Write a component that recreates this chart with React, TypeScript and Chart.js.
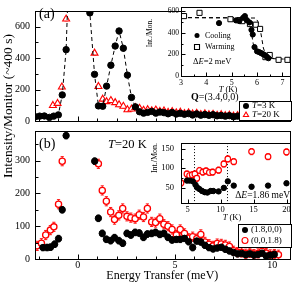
import React, { useEffect, useRef } from "react";
import { Chart, registerables } from "chart.js";

Chart.register(...registerables);

const SERIF = "'Liberation Serif', 'Times New Roman', Times, serif";
const RED = "#ff0000";
const BLACK = "#000000";

// ---------- shared energy axis (meV)
const energyRange = [-2.2, 10.9];
const energyTicks = [0, 5, 10];
const energyMinor = [-2, -1, 1, 2, 3, 4, 6, 7, 8, 9];
const energyTitle = "Energy Transfer (meV)";
const intensityTitle = "Intensity/Monitor (~400 s)";

// ---------- panel (a): Q=(3.4,0,0)
const aYRange = [0, 700];
const aYTicks = [0, 200, 400, 600];
const aYMinor = [100, 300, 500];
const aTailE = [3.59, 3.8, 4.01, 4.22, 4.43, 4.64, 4.85, 5.06, 5.27, 5.48, 5.69, 5.9, 6.11, 6.32, 6.53, 6.74, 6.95, 7.16, 7.37, 7.58, 7.79, 8.0, 8.21, 8.42, 8.63, 8.84, 9.05, 9.26, 9.47, 9.68, 9.89, 10.1, 10.31, 10.52];
const aPeakE3K = [-2.18, -1.96, -1.72, -1.46, -1.24, -1.0, -0.8, -0.6, -0.4, -0.2, 0.0, 0.2, 0.4, 0.62, 0.86, 1.06, 1.28, 1.48, 1.7, 1.92, 2.12, 2.34, 2.55, 2.76, 2.96, 3.17, 3.38];
const aPeakI3K = [27, 31, 32, 23, 31, 39, 166, 454, 1200, 4000, 6000, 4000, 1500, 688, 297, 96, 94, 222, 355, 477, 573, 463, 292, 150, 90, 59, 50];
const aTailI3K = [55, 61, 50, 57, 53, 46, 54, 44, 49, 43, 47, 38, 45, 37, 41, 36, 40, 33, 35, 31, 34, 27, 31, 27, 29, 24, 28, 24, 26, 21, 26, 23, 24, 20];
const aPeakE20K = [-1.28, -1.04, -0.82, -0.6, 0.86, 1.06, 1.28, 1.48, 1.7, 1.92, 2.12, 2.34, 2.55, 2.76, 2.96, 3.17, 3.38];
const aPeakI20K = [99, 112, 216, 649, 432, 220, 139, 123, 130, 117, 103, 94, 72, 76, 86, 81, 68];
const aTailI20K = [72, 65, 70, 61, 64, 55, 60, 52, 56, 47, 52, 45, 49, 41, 46, 40, 43, 36, 40, 34, 37, 31, 35, 30, 33, 28, 31, 26, 29, 25, 28, 24, 26, 23];
const aLabel = "(a)";
const aQLabel = "=(3.4,0,0)";
const aLegend3K = "=3 K";
const aLegend20K = "=20 K";

// ---------- panel (b): T=20 K
const bYRange = [0, 390];
const bYTicks = [0, 100, 200, 300];
const bYMinor = [50, 150, 250, 350];
const bE100 = [-1.79, -1.58, -1.4, -1.19, -0.99, -0.8, -0.6, 0.87, 1.06, 1.26, 1.47, 1.69, 1.89, 2.11, 2.31, 2.53, 2.73, 2.95, 3.16, 3.38, 3.58, 3.8, 4.0, 4.22, 4.43, 4.64, 4.85, 5.07, 5.27, 5.49, 5.7, 5.91, 6.12, 6.33, 6.54, 6.75, 6.96, 7.17, 7.38, 7.59, 7.8, 8.01, 8.22, 8.43, 8.64, 8.85, 9.06, 9.27, 9.48, 9.69, 9.9, 10.11];
const bI100 = [35, 35, 36, 45, 62, 150, 376, 298, 124, 78, 60, 56, 65, 56, 48, 78, 73, 81, 79, 66, 76, 78, 81, 75, 78, 66, 58, 60, 60, 63, 53, 35, 55, 52, 42, 35, 31, 34, 36, 30, 25, 20, 16, 17, 13, 16, 12, 14, 18, 9, 12, 14];
const bE001 = [-2.09, -1.87, -1.65, -1.41, -1.23, -0.99, -0.8, 1.06, 1.26, 1.47, 1.69, 1.89, 2.11, 2.31, 2.53, 2.73, 2.95, 3.16, 3.38, 3.58, 3.8, 4.0, 4.22, 4.43, 4.64, 4.85, 5.07, 5.27, 5.49, 5.7, 5.91, 6.12, 6.33, 6.54, 6.75, 6.96, 7.17, 7.38, 7.59, 7.8, 8.01, 8.22, 8.43, 8.64, 8.85, 9.06, 9.27, 9.48, 9.69, 9.9, 10.11, 10.32];
const bI001 = [40, 48, 73, 88, 98, 167, 298, 290, 209, 176, 143, 120, 133, 154, 130, 126, 123, 135, 128, 154, 113, 111, 123, 106, 100, 90, 73, 90, 78, 63, 68, 62, 75, 52, 45, 40, 47, 46, 43, 38, 25, 21, 20, 16, 19, 15, 17, 23, 18, 14, 15, 13];
const bLabel = "(b)";
const bTempLabel = "=20 K";
const bLegend100 = "(1.8,0,0)";
const bLegend001 = "(0,0,1.8)";

// ---------- inset (a): intensity vs T at dE = 2 meV
const iaXRange = [3, 7.3];
const iaXTicks = [3, 4, 5, 6, 7];
const iaXMinor = [3.5, 4.5, 5.5, 6.5];
const iaYRange = [0, 645];
const iaYTicks = [0, 200, 400, 600];
const iaYMinor = [100, 300, 500];
const coolT = [4.5, 5.17, 5.3, 5.45, 5.52, 5.6, 5.7, 5.78, 5.83, 5.9, 6.0, 6.08, 6.15, 6.22, 6.3, 6.38, 6.45];
const coolI = [491, 516, 510, 540, 556, 518, 497, 428, 385, 268, 229, 222, 214, 205, 195, 180, 165];
const warmT = [3.12, 3.73, 4.95, 5.3, 5.42, 5.72, 5.95, 6.12, 6.33, 6.5, 6.85, 7.2];
const warmI = [556, 586, 527, 518, 509, 482, 476, 437, 175, 195, 150, 150];
const coolFitT = [3.0, 5.55, 5.65, 5.75, 5.85, 5.95, 6.1, 6.3, 6.5, 7.3];
const coolFitI = [542, 540, 520, 440, 300, 230, 205, 180, 162, 155];
const warmFitT = [3.0, 5.95, 6.05, 6.15, 6.25, 6.35, 6.5, 7.3];
const warmFitI = [542, 538, 500, 400, 260, 190, 165, 155];
const iaLegendCool = "Cooling";
const iaLegendWarm = "Warming";
const iaDeltaE = "=2 meV";

// ---------- inset (b): intensity vs T at dE = 1.86 meV
const ibXRange = [4, 20.5];
const ibXTicks = [5, 10, 15, 20];
const ibYRange = [10, 165];
const ibYTicks = [50, 100, 150];
const ibYMinor = [75, 125];
const ibMarkT = [6, 11];
const ibT001 = [4.0, 4.9, 5.3, 5.7, 6.1, 6.4, 6.8, 7.3, 7.8, 8.3, 8.8, 9.7, 10.5, 11.1, 12.0, 14.7, 17.2, 20.0];
const ibI001 = [62, 85, 81, 83, 85, 74, 94, 90, 93, 89, 90, 95, 111, 124, 117, 143, 130, 142];
const ibT100 = [4.9, 5.3, 5.8, 6.2, 6.45, 6.8, 7.2, 7.6, 8.0, 8.5, 8.9, 9.7, 10.5, 11.1, 12.0, 14.7, 17.2, 20.0];
const ibI100 = [68, 68, 66, 57, 50, 46, 41, 38, 37, 41, 41, 40, 49, 66, 55, 52, 55, 61];
const ibDeltaE = "=1.86 meV";
const insetYTitle = "Int./Mon.";
const insetXTitle = " (K)";

// ---------------------------------------------------------------------------
type Run = { t: string; s?: "i" | "b" };
type TextSpec = { runs: Run[]; x: number; y: number; size: number; align?: "left" | "center" | "right"; rot?: number };
type LegendRow = { kind: string; color: string; y: number; runs: Run[] };
type LegendSpec = { box?: number[]; mx: number; tx: number; size: number; r: number; rows: LegendRow[] };
type FrameCfg = {
  fill?: boolean;
  xMajor: number[]; xMinor: number[]; yMajor: number[]; yMinor: number[];
  majorLen: number; minorLen: number;
  vlines?: number[];
  texts?: TextSpec[];
  legend?: LegendSpec;
};

function pts(xs: number[], ys: number[]) {
  return xs.map((x, i) => ({ x, y: ys[i] }));
}

function drawRuns(ctx: CanvasRenderingContext2D, spec: TextSpec) {
  const fontFor = (r: Run) => `${r.s === "i" ? "italic " : ""}${r.s === "b" ? "bold " : ""}${spec.size}px ${SERIF}`;
  ctx.save();
  ctx.translate(spec.x, spec.y);
  if (spec.rot) ctx.rotate(spec.rot);
  ctx.textBaseline = "middle";
  ctx.textAlign = "left";
  ctx.fillStyle = BLACK;
  let total = 0;
  spec.runs.forEach((r) => { ctx.font = fontFor(r); total += ctx.measureText(r.t).width; });
  let cx = spec.align === "center" ? -total / 2 : spec.align === "right" ? -total : 0;
  spec.runs.forEach((r) => { ctx.font = fontFor(r); ctx.fillText(r.t, cx, 0); cx += ctx.measureText(r.t).width; });
  ctx.restore();
}

function drawMarker(ctx: CanvasRenderingContext2D, kind: string, x: number, y: number, r: number, color: string) {
  ctx.save();
  ctx.lineWidth = 1.1;
  ctx.strokeStyle = color;
  ctx.fillStyle = color;
  ctx.beginPath();
  if (kind === "dot") {
    ctx.arc(x, y, r, 0, Math.PI * 2);
    ctx.fill();
  } else if (kind === "ocirc") {
    ctx.arc(x, y, r, 0, Math.PI * 2);
    ctx.fillStyle = "#fff";
    ctx.fill();
    ctx.stroke();
  } else if (kind === "tri") {
    ctx.moveTo(x, y - r);
    ctx.lineTo(x + r * 0.866, y + r * 0.5);
    ctx.lineTo(x - r * 0.866, y + r * 0.5);
    ctx.closePath();
    ctx.fillStyle = "#fff";
    ctx.fill();
    ctx.stroke();
  } else if (kind === "sq") {
    ctx.rect(x - r, y - r, 2 * r, 2 * r);
    ctx.fillStyle = "#fff";
    ctx.fill();
    ctx.stroke();
  }
  ctx.restore();
}

const px = (v: number) => Math.round(v) + 0.5;

function framePlugin(cfg: FrameCfg) {
  return {
    id: "frame",
    beforeDraw(chart: any) {
      if (!cfg.fill) return;
      const { ctx, chartArea: a } = chart;
      ctx.save();
      ctx.fillStyle = "#fff";
      ctx.fillRect(a.left, a.top, a.right - a.left, a.bottom - a.top);
      ctx.restore();
    },
    beforeDatasetsDraw(chart: any) {
      const { ctx, chartArea: a } = chart;
      ctx.save();
      ctx.beginPath();
      ctx.rect(a.left, a.top, a.right - a.left, a.bottom - a.top);
      ctx.clip();
      (cfg.vlines || []).forEach((v) => {
        const x = px(chart.scales.x.getPixelForValue(v));
        ctx.save();
        ctx.strokeStyle = BLACK;
        ctx.lineWidth = 1;
        ctx.setLineDash([1, 2]);
        ctx.beginPath();
        ctx.moveTo(x, a.top);
        ctx.lineTo(x, a.bottom);
        ctx.stroke();
        ctx.restore();
      });
      chart.data.datasets.forEach((ds: any, i: number) => {
        if (!ds.err) return;
        const meta = chart.getDatasetMeta(i);
        const ys = chart.scales[meta.yAxisID];
        ctx.strokeStyle = ds.pointBorderColor;
        ctx.lineWidth = 0.9;
        meta.data.forEach((el: any, j: number) => {
          const v = ds.data[j].y;
          const y1 = ys.getPixelForValue(v + ds.err);
          const y2 = ys.getPixelForValue(v - ds.err);
          const x = el.x;
          ctx.beginPath();
          ctx.moveTo(x, y1); ctx.lineTo(x, y2);
          ctx.moveTo(x - 1.6, y1); ctx.lineTo(x + 1.6, y1);
          ctx.moveTo(x - 1.6, y2); ctx.lineTo(x + 1.6, y2);
          ctx.stroke();
        });
      });
      ctx.restore();
    },
    afterDraw(chart: any) {
      const { ctx, chartArea: a } = chart;
      const xs = chart.scales.x;
      const ys = chart.scales.y;
      ctx.save();
      ctx.strokeStyle = BLACK;
      ctx.lineWidth = 1;
      ctx.strokeRect(px(a.left), px(a.top), Math.round(a.right) - Math.round(a.left), Math.round(a.bottom) - Math.round(a.top));
      const tick = (vals: number[], len: number) => {
        vals.forEach((v) => {
          const x = px(xs.getPixelForValue(v));
          ctx.beginPath();
          ctx.moveTo(x, px(a.bottom));
          ctx.lineTo(x, px(a.bottom) - len);
          ctx.stroke();
        });
      };
      const ytick = (vals: number[], len: number) => {
        vals.forEach((v) => {
          const y = px(ys.getPixelForValue(v));
          ctx.beginPath();
          ctx.moveTo(px(a.left), y);
          ctx.lineTo(px(a.left) + len, y);
          ctx.stroke();
        });
      };
      tick(cfg.xMajor, cfg.majorLen);
      tick(cfg.xMinor, cfg.minorLen);
      ytick(cfg.yMajor, cfg.majorLen);
      ytick(cfg.yMinor, cfg.minorLen);
      ctx.restore();
      const lg = cfg.legend;
      if (lg) {
        if (lg.box) {
          const [l, t, r, b] = lg.box;
          ctx.save();
          ctx.fillStyle = "#fff";
          ctx.fillRect(l, t, r - l, b - t);
          ctx.strokeStyle = BLACK;
          ctx.lineWidth = 1;
          ctx.strokeRect(px(l), px(t), Math.round(r - l), Math.round(b - t));
          ctx.restore();
        }
        lg.rows.forEach((row) => {
          drawMarker(ctx, row.kind, lg.mx, row.y, lg.r, row.color);
          drawRuns(ctx, { runs: row.runs, x: lg.tx, y: row.y, size: lg.size });
        });
      }
      (cfg.texts || []).forEach((t) => drawRuns(ctx, t));
    },
  };
}

function linAxis(range: number[], ticks: number[], o: any) {
  return {
    type: "linear",
    min: range[0],
    max: range[1],
    display: o.display === undefined ? true : o.display,
    grid: { display: false, drawTicks: false },
    border: { display: false },
    ticks: { font: { family: SERIF, size: o.size }, color: BLACK, padding: o.pad, autoSkip: false, maxRotation: 0 },
    afterBuildTicks: (s: any) => { s.ticks = ticks.map((v) => ({ value: v })); },
    afterFit: (s: any) => {
      if (o.fit === undefined) return;
      if (o.horizontal) s.height = o.fit; else s.width = o.fit;
    },
    title: o.title || { display: false },
  };
}

function baseOptions(padding: any, scales: any) {
  return {
    animation: false,
    responsive: false,
    devicePixelRatio: 1,
    layout: { padding },
    plugins: { legend: { display: false }, tooltip: { enabled: false } },
    events: [],
    scales,
  };
}

function mainBConfig(): any {
  return {
    type: "scatter",
    data: {
      datasets: [
        { data: pts(bE100, bI100), pointStyle: "circle", pointRadius: 3.2, pointBackgroundColor: BLACK, pointBorderColor: BLACK, pointBorderWidth: 1, err: 10 },
        { data: pts(bE001, bI001), pointStyle: "circle", pointRadius: 3.1, pointBackgroundColor: "#fff", pointBorderColor: RED, pointBorderWidth: 1.3, err: 14 },
      ],
    },
    options: baseOptions({ top: 131, right: 2, left: 0, bottom: 0 }, {
      x: linAxis(energyRange, energyTicks, {
        size: 10, pad: 0, fit: 26, horizontal: true,
        title: { display: true, text: energyTitle, color: BLACK, font: { family: SERIF, size: 12 }, padding: { top: 0, bottom: 1.5 } },
      }),
      y: linAxis(bYRange, bYTicks, { size: 10, pad: 5, fit: 35 }),
    }),
    plugins: [framePlugin({
      xMajor: energyTicks, xMinor: energyMinor, yMajor: bYTicks, yMinor: bYMinor, majorLen: 5, minorLen: 3,
      texts: [
        { runs: [{ t: bLabel }], x: 39, y: 144, size: 14 },
        { runs: [{ t: "T", s: "i" }, { t: bTempLabel }], x: 108, y: 145, size: 12.5 },
        { runs: [{ t: intensityTitle }], x: 8, y: 106, size: 13.5, align: "center", rot: -Math.PI / 2 },
      ],
      legend: {
        box: [238, 224, 291, 247], mx: 245, tx: 251, size: 9, r: 3,
        rows: [
          { kind: "dot", color: BLACK, y: 230, runs: [{ t: bLegend100 }] },
          { kind: "ocirc", color: RED, y: 240.5, runs: [{ t: bLegend001 }] },
        ],
      },
    })],
  };
}

function mainAConfig(): any {
  return {
    type: "scatter",
    data: {
      datasets: [
        { data: pts([...aPeakE3K, ...aTailE], [...aPeakI3K, ...aTailI3K]), showLine: true, borderColor: BLACK, borderWidth: 1, borderDash: [4, 3], pointStyle: "circle", pointRadius: 3.2, pointBackgroundColor: BLACK, pointBorderColor: BLACK, err: 12 },
        { data: pts([...aPeakE20K, ...aTailE], [...aPeakI20K, ...aTailI20K]), showLine: false, pointStyle: "triangle", pointRadius: 4, pointBackgroundColor: "#fff", pointBorderColor: RED, pointBorderWidth: 1.1, err: 12 },
      ],
    },
    options: baseOptions({ top: 1, right: 2, left: 0, bottom: 1 }, {
      x: linAxis(energyRange, energyTicks, { size: 10, pad: 0, display: false }),
      y: linAxis(aYRange, aYTicks, { size: 10, pad: 5, fit: 35 }),
    }),
    plugins: [framePlugin({
      xMajor: energyTicks, xMinor: energyMinor, yMajor: aYTicks, yMinor: aYMinor, majorLen: 5, minorLen: 3,
      texts: [
        { runs: [{ t: aLabel }], x: 39, y: 14, size: 14 },
        { runs: [{ t: "Q", s: "b" }, { t: aQLabel }], x: 191, y: 97, size: 10 },
      ],
      legend: {
        box: [239, 101, 291, 120], mx: 246, tx: 252, size: 9, r: 3,
        rows: [
          { kind: "dot", color: BLACK, y: 106, runs: [{ t: "T", s: "i" }, { t: aLegend3K }] },
          { kind: "tri", color: RED, y: 115, runs: [{ t: "T", s: "i" }, { t: aLegend20K }] },
        ],
      },
    })],
  };
}

function insetAConfig(): any {
  return {
    type: "scatter",
    data: {
      datasets: [
        { data: pts(coolT, coolI), pointStyle: "circle", pointRadius: 2.6, pointBackgroundColor: BLACK, pointBorderColor: BLACK },
        { data: pts(warmT, warmI), pointStyle: "rect", pointRadius: 3.6, pointBackgroundColor: "#fff", pointBorderColor: BLACK, pointBorderWidth: 1 },
        { data: pts(coolFitT, coolFitI), showLine: true, borderColor: BLACK, borderWidth: 1, borderDash: [4, 3], pointRadius: 0 },
        { data: pts(warmFitT, warmFitI), showLine: true, borderColor: BLACK, borderWidth: 1, borderDash: [4, 3], pointRadius: 0 },
      ],
    },
    options: baseOptions({ top: 2, right: 2, left: 0, bottom: 0 }, {
      x: linAxis(iaXRange, iaXTicks, { size: 8, pad: 2, fit: 24, horizontal: true }),
      y: linAxis(iaYRange, iaYTicks, { size: 7.5, pad: 2, fit: 41 }),
    }),
    plugins: [framePlugin({
      fill: true,
      xMajor: iaXTicks, xMinor: iaXMinor, yMajor: iaYTicks, yMinor: iaYMinor, majorLen: 4, minorLen: 2,
      texts: [
        { runs: [{ t: insetYTitle }], x: 10, y: 33, size: 7.5, align: "center", rot: -Math.PI / 2 },
        { runs: [{ t: "T", s: "i" }, { t: insetXTitle }], x: 88, y: 90, size: 8.5, align: "center" },
        { runs: [{ t: "\u0394" }, { t: "E", s: "i" }, { t: iaDeltaE }], x: 53, y: 62, size: 8.5 },
      ],
      legend: {
        mx: 57, tx: 65, size: 8, r: 2.5,
        rows: [
          { kind: "dot", color: BLACK, y: 35.5, runs: [{ t: iaLegendCool }] },
          { kind: "sq", color: BLACK, y: 47, runs: [{ t: iaLegendWarm }] },
        ],
      },
    })],
  };
}

function insetBConfig(): any {
  return {
    type: "scatter",
    data: {
      datasets: [
        { data: pts(ibT100, ibI100), pointStyle: "circle", pointRadius: 2.7, pointBackgroundColor: BLACK, pointBorderColor: BLACK, err: 5 },
        { data: pts(ibT001, ibI001), pointStyle: "circle", pointRadius: 2.8, pointBackgroundColor: "#fff", pointBorderColor: RED, pointBorderWidth: 1.2, err: 8 },
      ],
    },
    options: baseOptions({ top: 1, right: 2, left: 0, bottom: 0 }, {
      x: linAxis(ibXRange, ibXTicks, { size: 8.5, pad: 2, fit: 23, horizontal: true }),
      y: linAxis(ibYRange, ibYTicks, { size: 8.5, pad: 7, fit: 41 }),
    }),
    plugins: [framePlugin({
      fill: true,
      xMajor: ibXTicks, xMinor: [], yMajor: ibYTicks, yMinor: ibYMinor, majorLen: 4, minorLen: 2,
      vlines: ibMarkT,
      texts: [
        { runs: [{ t: insetYTitle }], x: 15, y: 27, size: 8, align: "center", rot: -Math.PI / 2 },
        { runs: [{ t: "T", s: "i" }, { t: insetXTitle }], x: 92, y: 87, size: 8.5, align: "center" },
        { runs: [{ t: "\u0394" }, { t: "E", s: "i" }, { t: ibDeltaE }], x: 150, y: 64, size: 9.5, align: "right" },
      ],
    })],
  };
}

export default function App() {
  const mainB = useRef<HTMLCanvasElement>(null);
  const mainA = useRef<HTMLCanvasElement>(null);
  const insA = useRef<HTMLCanvasElement>(null);
  const insB = useRef<HTMLCanvasElement>(null);

  useEffect(() => {
    const charts: Chart[] = [];
    if (mainB.current) charts.push(new Chart(mainB.current, mainBConfig()));
    if (mainA.current) charts.push(new Chart(mainA.current, mainAConfig()));
    if (insA.current) charts.push(new Chart(insA.current, insetAConfig()));
    if (insB.current) charts.push(new Chart(insB.current, insetBConfig()));
    return () => charts.forEach((c) => c.destroy());
  }, []);

  const abs = (left: number, top: number): React.CSSProperties => ({ position: "absolute", left, top });

  return (
    <div style={{ position: "fixed", left: 0, top: 0, width: 295, height: 285, background: "#fff", overflow: "hidden" }}>
      <canvas ref={mainB} width={295} height={285} style={abs(0, 0)} />
      <canvas ref={mainA} width={295} height={132} style={abs(0, 0)} />
      <canvas ref={insA} width={155} height={100} style={abs(140, 0)} />
      <canvas ref={insB} width={155} height={95} style={abs(140, 131)} />
    </div>
  );
}
